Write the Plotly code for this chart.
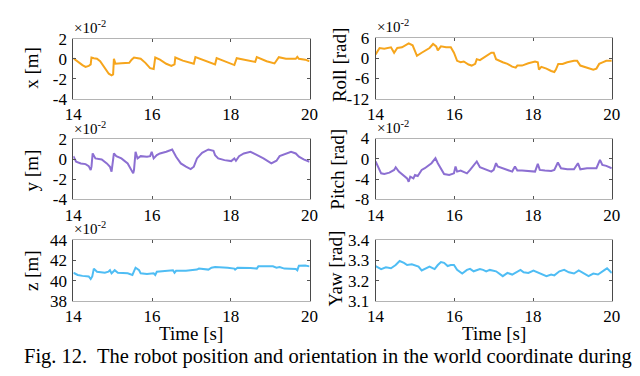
import plotly.graph_objects as go

# ---------------- data ----------------
# x position [1e-2 m]
t_x = [14.00, 14.11, 14.23, 14.31, 14.39, 14.44, 14.46, 14.52, 14.60, 14.68, 14.80, 14.90, 14.97, 15.01,
       15.03, 15.07, 15.22, 15.42, 15.48, 15.54, 15.71, 15.83, 15.95, 16.04, 16.08, 16.20, 16.36, 16.49,
       16.57, 16.59, 16.78, 16.94, 17.06, 17.10, 17.27, 17.43, 17.60, 17.64, 17.84, 18.09, 18.15, 18.33,
       18.62, 18.66, 18.91, 19.11, 19.22, 19.40, 19.65, 19.69, 19.73, 19.89, 20.00]
v_x = [0.06, -0.31, -0.63, -0.81, -0.72, -0.56, 0.13, 0.06, 0.00, -0.25, -0.88, -1.50, -1.66, -1.56,
       0.00, -0.50, -0.44, -0.41, -0.09, 0.13, 0.00, -0.41, -0.94, -1.03, 0.13, -0.09, -0.50, -0.72,
       -0.56, 0.13, -0.19, -0.41, -0.50, 0.16, -0.09, -0.31, -0.56, 0.06, -0.25, -0.63, 0.06, -0.09,
       -0.31, 0.16, -0.25, -0.47, 0.16, 0.00, 0.00, 0.19, 0.00, -0.09, -0.25]

# y position [1e-2 m]
t_y = [14.00, 14.07, 14.19, 14.31, 14.39, 14.44, 14.46, 14.49, 14.56, 14.72, 14.85, 14.93, 14.97, 14.99,
       15.03, 15.09, 15.22, 15.38, 15.46, 15.52, 15.54, 15.58, 15.63, 15.71, 15.87, 15.95, 15.99, 16.04,
       16.12, 16.20, 16.36, 16.51, 16.61, 16.73, 16.86, 16.98, 17.06, 17.14, 17.27, 17.43, 17.56, 17.60,
       17.68, 17.84, 18.01, 18.09, 18.13, 18.21, 18.33, 18.50, 18.62, 18.83, 19.03, 19.16, 19.24, 19.40,
       19.53, 19.65, 19.73, 19.85, 20.00]
v_y = [0.33, -0.23, -0.40, -0.47, -0.67, -1.07, -0.73, 0.60, 0.10, 0.00, -0.40, -0.73, -1.23, -0.73,
       0.60, 0.33, 0.10, -0.40, -0.90, -1.40, -1.07, 0.77, 0.10, 0.33, 0.27, 0.33, 0.77, 0.10,
       0.43, 0.60, 0.77, 1.00, 0.27, -0.40, -0.73, -0.97, -0.73, 0.10, 0.67, 1.00, 0.87, 0.43,
       0.10, -0.07, -0.17, 0.10, -0.13, 0.33, 0.60, 0.77, 0.53, 0.10, -0.40, -0.13, 0.33, 0.60,
       0.77, 0.60, 0.27, 0.00, -0.23]

# z position [1e-2 m]
t_z = [14.00, 14.11, 14.23, 14.39, 14.44, 14.48, 14.52, 14.60, 14.80, 14.89, 14.93, 14.97, 15.05, 15.13,
       15.38, 15.50, 15.58, 15.67, 15.71, 15.87, 16.04, 16.08, 16.12, 16.45, 16.53, 16.57, 16.61, 16.86,
       17.06, 17.14, 17.19, 17.43, 17.51, 17.60, 17.92, 18.09, 18.11, 18.17, 18.50, 18.66, 18.70, 19.07,
       19.16, 19.24, 19.36, 19.65, 19.69, 19.73, 19.89, 20.00]
v_z = [40.78, 40.56, 40.47, 40.41, 40.16, 40.41, 41.19, 40.88, 40.78, 40.88, 41.03, 40.72, 41.03, 40.78,
       40.72, 40.56, 41.28, 41.03, 40.72, 40.66, 40.72, 40.56, 40.88, 40.97, 41.03, 40.78, 40.97, 40.97,
       41.03, 41.09, 41.19, 41.09, 41.28, 41.34, 41.28, 41.19, 41.09, 41.28, 41.25, 41.19, 41.41, 41.41,
       41.28, 41.34, 41.19, 41.16, 41.03, 41.47, 41.50, 41.41]

# Roll [1e-2 rad]
t_roll = [14.00, 14.10, 14.22, 14.39, 14.47, 14.55, 14.67, 14.84, 14.94, 15.00, 15.05, 15.17, 15.25, 15.37,
          15.46, 15.54, 15.58, 15.66, 15.79, 15.91, 15.99, 16.07, 16.16, 16.24, 16.36, 16.44, 16.53, 16.57,
          16.65, 16.81, 16.94, 17.00, 17.06, 17.23, 17.35, 17.47, 17.56, 17.60, 17.72, 17.88, 18.05, 18.12,
          18.15, 18.21, 18.34, 18.46, 18.54, 18.58, 18.64, 18.75, 18.87, 19.04, 19.12, 19.20, 19.33, 19.45,
          19.53, 19.61, 19.68, 19.78, 19.86, 20.00]
v_roll = [1.1, 3.0, 2.8, 3.2, 1.6, 3.0, 3.2, 4.4, 3.8, 2.1, 0.7, 1.6, 2.1, 3.0,
          4.2, 3.5, 2.3, 3.5, 3.2, 3.2, 1.6, -0.8, -1.2, -1.0, -1.9, -2.2, -1.7, -0.3,
          -0.6, 0.7, 1.6, 1.6, -0.3, -1.2, -1.7, -2.5, -2.8, -2.2, -2.2, -1.5, -1.0, -1.2,
          -3.4, -2.6, -3.1, -3.8, -4.1, -3.4, -1.7, -1.7, -1.2, -0.8, -0.8, -2.2, -2.6, -3.1,
          -3.4, -3.1, -1.7, -1.2, -0.8, -0.8]

# Pitch [1e-2 rad]
t_pitch = [14.00, 14.06, 14.14, 14.22, 14.35, 14.47, 14.51, 14.59, 14.72, 14.80, 14.84, 14.88, 14.96, 15.00,
           15.07, 15.17, 15.25, 15.33, 15.42, 15.50, 15.52, 15.58, 15.66, 15.74, 15.87, 15.99, 16.03, 16.07,
           16.16, 16.32, 16.40, 16.53, 16.57, 16.65, 16.81, 16.94, 17.00, 17.06, 17.10, 17.23, 17.39, 17.47,
           17.54, 17.60, 17.72, 17.88, 18.05, 18.12, 18.17, 18.30, 18.46, 18.54, 18.63, 18.71, 18.87, 19.04,
           19.14, 19.20, 19.37, 19.61, 19.70, 19.76, 19.86, 20.00]
v_pitch = [-0.53, -1.53, -2.87, -3.00, -2.73, -2.20, -1.67, -2.53, -3.40, -3.87, -4.53, -3.53, -3.87, -3.20,
           -3.40, -2.20, -1.87, -1.40, -0.87, -0.07, 0.13, -0.87, -2.07, -3.00, -3.20, -2.87, -1.53, -2.53,
           -2.33, -2.87, -2.20, -0.87, -0.53, -1.67, -2.20, -2.53, -2.20, -0.87, -1.53, -1.87, -2.33, -2.53,
           -1.53, -2.33, -2.33, -2.40, -2.53, -1.00, -2.20, -2.33, -2.40, -2.20, -0.73, -1.87, -2.07, -2.07,
           -0.87, -2.07, -1.87, -1.87, -0.20, -1.20, -1.40, -1.87]

# Yaw [rad]
t_yaw = [14.00, 14.14, 14.26, 14.39, 14.51, 14.61, 14.72, 14.80, 14.92, 15.00, 15.09, 15.17, 15.29, 15.37,
         15.46, 15.50, 15.58, 15.66, 15.74, 15.83, 15.91, 15.99, 16.07, 16.20, 16.32, 16.40, 16.49, 16.57,
         16.65, 16.73, 16.81, 16.90, 17.06, 17.23, 17.35, 17.47, 17.68, 17.76, 17.88, 18.01, 18.13, 18.26,
         18.34, 18.46, 18.54, 18.67, 18.79, 18.91, 19.04, 19.16, 19.28, 19.41, 19.53, 19.65, 19.82, 19.88,
         20.00]
v_yaw = [3.272, 3.257, 3.266, 3.261, 3.277, 3.297, 3.288, 3.277, 3.281, 3.277, 3.269, 3.250, 3.261, 3.269,
         3.261, 3.257, 3.277, 3.292, 3.288, 3.272, 3.277, 3.277, 3.253, 3.235, 3.253, 3.258, 3.246, 3.250,
         3.257, 3.253, 3.246, 3.253, 3.246, 3.222, 3.238, 3.230, 3.253, 3.241, 3.238, 3.250, 3.241, 3.230,
         3.222, 3.230, 3.226, 3.246, 3.253, 3.241, 3.235, 3.250, 3.238, 3.222, 3.235, 3.230, 3.253, 3.261,
         3.238]

# tick values and labels
x_ticks = [14, 16, 18, 20]
ticks_xy = [-4, -2, 0, 2]
labels_xy = ["-4", "-2", "0", "2"]
ticks_roll = [-12, -6, 0, 6]
labels_roll = ["-12", "-6", "0", "6"]
ticks_pitch = [-8, -4, 0, 4]
labels_pitch = ["-8", "-4", "0", "4"]
ticks_z = [38, 40, 42, 44]
labels_z = ["38", "40", "42", "44"]
ticks_yaw = [3.1, 3.2, 3.3, 3.4]
labels_yaw = ["3.1", "3.2", "3.3", "3.4"]

x_label = "Time [s]"
caption = "Fig. 12.&nbsp; The robot position and orientation in the world coordinate during"

ORANGE = "#F6A51C"
PURPLE = "#8C6FD2"
CYAN = "#4FBDF4"

W, H = 640, 376
def px(x):
    return x / W
def py(y):
    return 1 - y / H

FONT = "Liberation Serif, Times New Roman, Times, serif"

panels = [
    dict(t=t_x, v=v_x, color=ORANGE, title="x [m]", rng=[-4, 2], ticks=ticks_xy, labels=labels_xy, exp=True,
         xd=(58, 301), yd=(23, 86), tx=15, ty=54),
    dict(t=t_roll, v=v_roll, color=ORANGE, title="Roll [rad]", rng=[-12, 6], ticks=ticks_roll, labels=labels_roll,
         exp=True, xd=(369, 612), yd=(22, 86), tx=332, ty=51),
    dict(t=t_y, v=v_y, color=PURPLE, title="y [m]", rng=[-4, 2], ticks=ticks_xy, labels=labels_xy, exp=True,
         xd=(58, 301), yd=(129, 192), tx=15, ty=162),
    dict(t=t_pitch, v=v_pitch, color=PURPLE, title="Pitch [rad]", rng=[-8, 4], ticks=ticks_pitch,
         labels=labels_pitch, exp=True, xd=(369, 612), yd=(128, 192), tx=330, ty=160),
    dict(t=t_z, v=v_z, color=CYAN, title="z [m]", rng=[38, 44], ticks=ticks_z, labels=labels_z, exp=True,
         xd=(58, 301), yd=(235, 299), tx=15, ty=267),
    dict(t=t_yaw, v=v_yaw, color=CYAN, title="Yaw [rad]", rng=[3.1, 3.4], ticks=ticks_yaw, labels=labels_yaw,
         exp=False, xd=(369, 612), yd=(235, 299), tx=328, ty=265),
]

fig = go.Figure()
annotations = []
for i, p in enumerate(panels):
    n = "" if i == 0 else str(i + 1)
    fig.add_trace(go.Scatter(x=p["t"], y=p["v"], mode="lines", line=dict(color=p["color"], width=2),
                             xaxis="x" + n, yaxis="y" + n, showlegend=False, hoverinfo="skip"))
    fig.layout["xaxis" + n] = dict(
        domain=[px(p["xd"][0]), px(p["xd"][1])], anchor="y" + n, range=[14, 20],
        tickvals=x_ticks, ticks="inside", ticklen=3, tickcolor="#555555", mirror="ticks",
        showline=True, linecolor="#b4b4b4", linewidth=1, showgrid=False, zeroline=False,
        tickfont=dict(family=FONT, size=17, color="black"), fixedrange=True)
    fig.layout["yaxis" + n] = dict(
        domain=[py(p["yd"][1]), py(p["yd"][0])], anchor="x" + n, range=p["rng"],
        tickvals=p["ticks"], ticktext=p["labels"], ticks="inside", ticklen=3, tickcolor="#555555",
        mirror="ticks", showline=True, linecolor="#4a4a4a", linewidth=1, showgrid=False, zeroline=False,
        tickfont=dict(family=FONT, size=17, color="black"), ticklabelstandoff=2, fixedrange=True)
    annotations.append(dict(text=p["title"], x=px(p["tx"]), y=py(p["ty"]), xref="paper", yref="paper",
                            textangle=-90, showarrow=False, xanchor="center", yanchor="middle",
                            font=dict(family=FONT, size=19, color="black")))
    if p["exp"]:
        annotations.append(dict(text="×10<sup>-2</sup>", x=px(p["xd"][0] - 1), y=py(p["yd"][0] - 1),
                                xref="paper", yref="paper", showarrow=False, xanchor="left", yanchor="bottom",
                                font=dict(family=FONT, size=15, color="black")))
    if i >= 4:
        cx = (p["xd"][0] + p["xd"][1]) / 2
        annotations.append(dict(text=x_label, x=px(cx), y=py(333), xref="paper", yref="paper",
                                showarrow=False, xanchor="center", yanchor="middle",
                                font=dict(family=FONT, size=19, color="black")))

annotations.append(dict(text=caption, x=px(320), y=py(358), xref="paper", yref="paper",
                        showarrow=False, xanchor="center", yanchor="middle",
                        font=dict(family=FONT, size=20.5, color="black")))

fig.update_layout(width=W, height=H, margin=dict(l=0, r=0, t=0, b=0), font=dict(family=FONT),
                  paper_bgcolor="white", plot_bgcolor="white", annotations=annotations)

fig.write_html("out.html")
